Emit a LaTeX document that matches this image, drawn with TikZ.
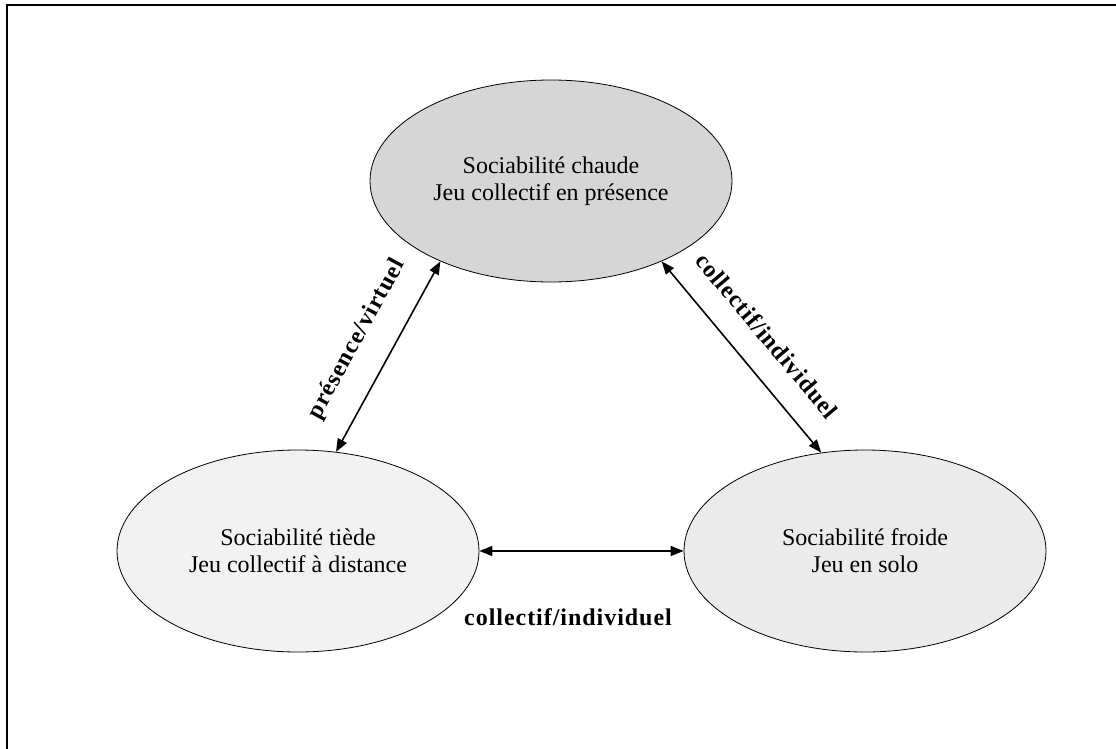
\documentclass[tikz,border=0pt]{standalone}
\usepackage{fontspec}
\setmainfont{Liberation Serif}
\newfontfamily\lblfont[LetterSpace=4]{Liberation Serif}
\usetikzlibrary{shapes.geometric,arrows.meta}

\begin{document}
\begin{tikzpicture}
      [%%%%%%%%%%%%%%%%%%%%%%%%%%%%%%
      x=1pt,y=-1pt,
      oval/.style={ellipse,draw=black,line width=0.8pt,inner sep=0pt,
        minimum width=362pt,minimum height=202pt,align=center,
        font=\fontsize{24}{27}\selectfont},
      link/.style={{Triangle[length=13pt,width=10pt]}-{Triangle[length=13pt,width=10pt]},
        line width=1.6pt},
      tag/.style={font=\lblfont\bfseries\fontsize{24}{26}\selectfont,inner sep=0pt},
      ]%%%%%%%%%%%%%%%%%%%%%%%%%%%%%%

      \useasboundingbox (0,0) rectangle (1116,749);
      \draw[line width=2pt] (6.5,770) -- (6.5,5) -- (1140,5);

      \node[oval,fill=black!16] (chaude) at (551,181) {Sociabilité chaude\\Jeu collectif en présence};
      \node[oval,fill=black!5 ] (tiede)  at (298,551) {Sociabilité tiède\\Jeu collectif à distance};
      \node[oval,fill=black!8 ] (froide) at (865,551) {Sociabilité froide\\Jeu en solo};

      \draw[link] (tiede.69) -- node[tag,sloped,above=24pt] (lienpv) {présence/virtuel} (chaude.216.5);
      \draw[link] (chaude.324.6) -- node[tag,sloped,above=24pt] (lienci) {collectif/individuel} (froide.114.7);
      \draw[link] (tiede.east) -- (froide.west);
      \node[tag] (lienbas) at (568,617) {collectif/individuel};
\end{tikzpicture}
\end{document}
